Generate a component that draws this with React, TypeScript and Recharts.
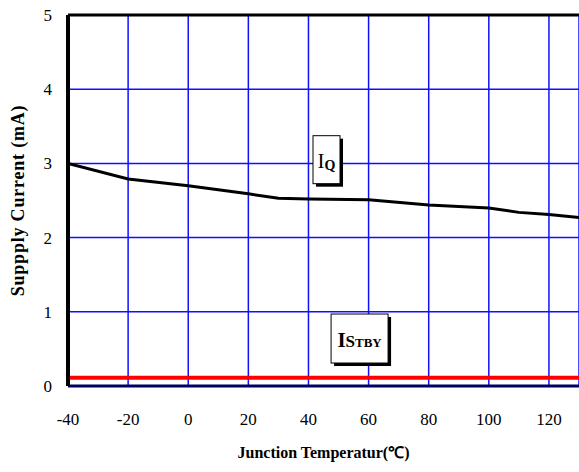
import {
  LineChart,
  Line,
  XAxis,
  YAxis,
  CartesianGrid,
  ReferenceLine,
  ReferenceDot,
} from "recharts";

// junction temperature (°C) vs supply current (mA)
const temps = [-40, -20, 0, 20, 30, 40, 60, 80, 100, 110, 120, 130];
const iq = [3.0, 2.79, 2.7, 2.59, 2.53, 2.52, 2.51, 2.44, 2.4, 2.34, 2.31, 2.27];
const istby = [0.11, 0.11, 0.11, 0.11, 0.11, 0.11, 0.11, 0.11, 0.11, 0.11, 0.11, 0.11];

const xTicks = [-40, -20, 0, 20, 40, 60, 80, 100, 120];
const yTicks = [0, 1, 2, 3, 4, 5];

const data = temps.map((t, i) => ({ t, iq: iq[i], istby: istby[i] }));

const serif = "'Liberation Serif', 'Times New Roman', serif";

function LabelBox(props: any) {
  const { cx, cy, w, h, kind } = props;
  const x = cx - w / 2;
  const y = cy - h / 2;
  return (
    <g>
      <rect x={x + 3} y={y + 3} width={w} height={h} fill="#000" />
      <rect x={x} y={y} width={w} height={h} fill="#fff" stroke="#000" strokeWidth={1} />
      {kind === "iq" ? (
        <text x={cx} y={cy + 8} textAnchor="middle" fontFamily={serif} fill="#000">
          <tspan fontSize={21}>I</tspan>
          <tspan fontSize={14} fontWeight="bold" dy={2}>Q</tspan>
        </text>
      ) : (
        <text x={cx} y={cy + 8} textAnchor="middle" fontFamily={serif} fontWeight="bold" fill="#000">
          <tspan fontSize={21}>I</tspan>
          <tspan fontSize={17}>S</tspan>
          <tspan fontSize={13}>TBY</tspan>
        </text>
      )}
    </g>
  );
}

export default function App() {
  return (
    <div style={{ position: "absolute", left: 0, top: 0, background: "#fff" }}>
      <LineChart
        width={579}
        height={472}
        data={data}
        margin={{ top: 15, right: 0, left: 0, bottom: 0 }}
      >
        <CartesianGrid stroke="#1010ff" strokeWidth={1.5} vertical horizontal />
        <XAxis
          dataKey="t"
          type="number"
          domain={[-40, 130]}
          ticks={xTicks}
          allowDataOverflow
          height={86}
          axisLine={{ stroke: "#000060", strokeWidth: 3 }}
          tickLine={false}
          tickSize={0}
          tickMargin={27}
          tick={{ fill: "#000", fontSize: 17, fontFamily: serif }}
          label={{
            value: "Junction Temperatur(℃)",
            position: "insideBottom",
            offset: 14,
            fill: "#000",
            fontSize: 16,
            fontWeight: "bold",
            fontFamily: serif,
          }}
        />
        <YAxis
          type="number"
          domain={[0, 5]}
          ticks={yTicks}
          width={68}
          axisLine={{ stroke: "#000", strokeWidth: 4 }}
          tickLine={false}
          tickSize={0}
          tickMargin={16}
          tick={{ fill: "#000", fontSize: 17, fontFamily: serif }}
          label={{
            value: "Suppply Current (mA)",
            angle: -90,
            position: "insideLeft",
            offset: 18,
            style: { textAnchor: "middle", letterSpacing: 0.8 },
            fill: "#000",
            fontSize: 18,
            fontWeight: "bold",
            fontFamily: serif,
          }}
        />
        <ReferenceLine y={5} stroke="#000" strokeWidth={3} />
        <Line
          dataKey="istby"
          stroke="#ff0000"
          strokeWidth={4}
          dot={false}
          isAnimationActive={false}
        />
        <Line
          dataKey="iq"
          stroke="#000"
          strokeWidth={3}
          dot={false}
          isAnimationActive={false}
        />
        <ReferenceDot
          x={46}
          y={3.05}
          r={0}
          shape={(p: any) => <LabelBox {...p} w={27} h={48} kind="iq" />}
        />
        <ReferenceDot
          x={57}
          y={0.64}
          r={0}
          shape={(p: any) => <LabelBox {...p} w={57} h={49} kind="istby" />}
        />
      </LineChart>
    </div>
  );
}
